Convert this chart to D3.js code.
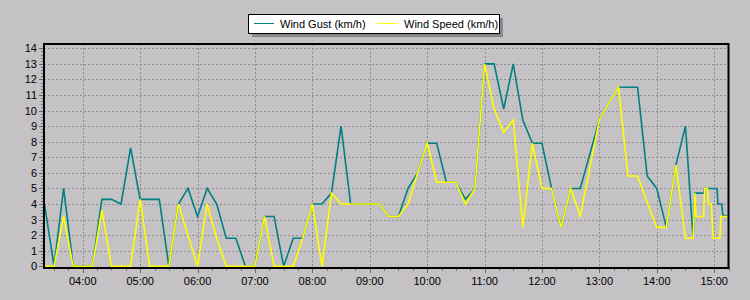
<!DOCTYPE html>
<html>
<head>
<meta charset="utf-8">
<script src="https://cdn.jsdelivr.net/npm/d3@7"></script>
<style>
  body { margin: 0; background: #c4c2c5; }
  svg { display: block; font-family: "Liberation Sans", Arial, sans-serif; }
</style>
</head>
<body>
<div id="chart"></div>
<script>
const times = [
  "03:20","03:30","03:40","03:50","04:00","04:10","04:20","04:30","04:40","04:50",
  "05:00","05:10","05:20","05:30","05:40","05:50","06:00","06:10","06:20","06:30",
  "06:40","06:50","07:00","07:10","07:20","07:30","07:40","07:50","08:00","08:10",
  "08:20","08:30","08:40","08:50","09:00","09:10","09:20","09:30","09:40","09:50",
  "10:00","10:10","10:20","10:30","10:40","10:50","11:00","11:10","11:20","11:30",
  "11:40","11:50","12:00","12:10","12:20","12:30","12:40","12:50","13:00","13:10",
  "13:20","13:30","13:40","13:50","14:00","14:10","14:20","14:30",
  "14:38","14:40","14:41","14:49","14:50","14:53","14:54","14:57","14:59","15:03",
  "15:04","15:06","15:07","15:08","15:09","15:15"
];

const gust = [
  4.0, 0, 5.0, 0, 0, 0, 4.3, 4.3, 4.0, 7.6,
  4.3, 4.3, 4.3, 0, 4.0, 5.0, 3.2, 5.0, 4.0, 1.8,
  1.8, 0, 0, 3.2, 3.2, 0, 1.8, 1.8, 4.0, 4.0,
  4.7, 9.0, 4.0, 4.0, 4.0, 4.0, 3.2, 3.2, 5.0, 6.0,
  7.9, 7.9, 5.4, 5.4, 4.3, 5.0, 13.0, 13.0, 10.1, 13.0,
  9.4, 7.9, 7.9, 5.0, 2.5, 5.0, 5.0, 7.2, 9.4, 10.5,
  11.5, 11.5, 11.5, 5.8, 5.0, 2.5, 6.5, 9.0,
  1.8, 4.7, 4.7, 4.7, 5.0, 5.0, 5.0, 5.0, 5.0, 5.0,
  4.0, 4.0, 4.0, 4.0, 3.3, 3.2
];

const speed = [
  0, 0, 3.2, 0, 0, 0, 3.6, 0, 0, 0,
  4.3, 0, 0, 0, 4.0, 2.0, 0, 4.0, 1.8, 0,
  0, 0, 0, 3.2, 0, 0, 0, 1.8, 4.0, 0,
  4.7, 4.0, 4.0, 4.0, 4.0, 4.0, 3.2, 3.2, 4.0, 6.0,
  7.9, 5.4, 5.4, 5.4, 4.0, 5.0, 13.0, 10.1, 8.6, 9.4,
  2.5, 7.9, 5.0, 5.0, 2.5, 5.0, 3.2, 6.3, 9.4, 10.5,
  11.5, 5.8, 5.8, 4.1, 2.5, 2.5, 6.5, 1.8,
  1.8, 4.7, 3.2, 3.2, 5.0, 5.0, 4.0, 4.0, 1.8, 1.8,
  1.8, 1.8, 3.2, 3.2, 3.2, 3.2
];

const yTicks = [0,1,2,3,4,5,6,7,8,9,10,11,12,13,14];
const hourTicks = ["04:00","05:00","06:00","07:00","08:00","09:00","10:00","11:00","12:00","13:00","14:00","15:00"];
const seriesNames = ["Wind Gust (km/h)", "Wind Speed (km/h)"];
const colors = ["#008080", "#ffff00"];

const width = 750;
const height = 300;
const plot = {left: 44, right: 728.5, top: 44, bottom: 267};

const parse = d3.timeParse("%H:%M");

const x = d3.scaleTime()
    .domain([parse("03:20"), parse("15:15")])
    .range([plot.left + 0.5, plot.right]);

const y = d3.scaleLinear()
    .domain([0, 14])
    .range([266.3, 48.3]);

const svg = d3.select('#chart')
    .append('svg')
    .attr('width', width)
    .attr('height', height);

svg.append('rect')
    .attr('width', width)
    .attr('height', height)
    .attr('fill', '#c4c2c5');

// gridlines
svg.append('g')
    .selectAll('line')
    .data(yTicks.slice(1))
    .enter()
    .append('line')
    .attr('x1', plot.left)
    .attr('x2', plot.right)
    .attr('y1', d => Math.round(y(d)) + 0.5)
    .attr('y2', d => Math.round(y(d)) + 0.5)
    .attr('stroke', '#8e8e8e')
    .attr('stroke-dasharray', '2,2');

svg.append('g')
    .selectAll('line')
    .data(hourTicks)
    .enter()
    .append('line')
    .attr('x1', d => Math.round(x(parse(d))) + 0.5)
    .attr('x2', d => Math.round(x(parse(d))) + 0.5)
    .attr('y1', plot.top)
    .attr('y2', plot.bottom)
    .attr('stroke', '#8e8e8e')
    .attr('stroke-dasharray', '2,2');

// y axis ticks and labels
const yMinor = d3.range(0, 14.01, 0.2);
svg.append('g')
    .selectAll('line')
    .data(yMinor)
    .enter()
    .append('line')
    .attr('x1', plot.left - 3)
    .attr('x2', plot.left)
    .attr('y1', d => Math.round(y(d)) + 0.5)
    .attr('y2', d => Math.round(y(d)) + 0.5)
    .attr('stroke', '#7a7a7a');

svg.append('g')
    .selectAll('line')
    .data(yTicks)
    .enter()
    .append('line')
    .attr('x1', plot.left - 5)
    .attr('x2', plot.left)
    .attr('y1', d => Math.round(y(d)) + 0.5)
    .attr('y2', d => Math.round(y(d)) + 0.5)
    .attr('stroke', '#6a6a6a');

svg.append('g')
    .selectAll('text')
    .data(yTicks)
    .enter()
    .append('text')
    .attr('x', 37)
    .attr('y', d => y(d) + 4)
    .attr('text-anchor', 'end')
    .attr('font-size', 11)
    .attr('fill', '#000')
    .text(d => d);

// x axis ticks and labels
const xMinor = x.ticks(d3.timeMinute.every(15));
svg.append('g')
    .selectAll('line')
    .data(xMinor)
    .enter()
    .append('line')
    .attr('x1', d => Math.round(x(d)) + 0.5)
    .attr('x2', d => Math.round(x(d)) + 0.5)
    .attr('y1', plot.bottom)
    .attr('y2', plot.bottom + 4)
    .attr('stroke', '#7a7a7a');

svg.append('g')
    .selectAll('line')
    .data(hourTicks)
    .enter()
    .append('line')
    .attr('x1', d => Math.round(x(parse(d))) + 0.5)
    .attr('x2', d => Math.round(x(parse(d))) + 0.5)
    .attr('y1', plot.bottom)
    .attr('y2', plot.bottom + 6)
    .attr('stroke', '#6a6a6a');

svg.append('g')
    .selectAll('text')
    .data(hourTicks)
    .enter()
    .append('text')
    .attr('x', d => x(parse(d)))
    .attr('y', 285)
    .attr('text-anchor', 'middle')
    .attr('font-size', 11)
    .attr('fill', '#000')
    .text(d => d);

// series lines
svg.append('clipPath')
    .attr('id', 'clip')
    .append('rect')
    .attr('x', plot.left)
    .attr('y', plot.top)
    .attr('width', plot.right - plot.left)
    .attr('height', plot.bottom - plot.top);

const rows = times.map((t, i) => ({t: parse(t), gust: gust[i], speed: speed[i]}));

const line = key => d3.line()
    .x(d => x(d.t))
    .y(d => y(d[key]));

const lines = svg.append('g').attr('clip-path', 'url(#clip)');

lines.append('path')
    .datum(rows)
    .attr('d', line('gust'))
    .attr('fill', 'none')
    .attr('stroke', colors[0])
    .attr('stroke-width', 1.6)
    .attr('stroke-linejoin', 'miter');

lines.append('path')
    .datum(rows)
    .attr('d', line('speed'))
    .attr('fill', 'none')
    .attr('stroke', colors[1])
    .attr('stroke-width', 1.6)
    .attr('stroke-linejoin', 'miter');

// frame
svg.append('rect')
    .attr('x', plot.left)
    .attr('y', plot.top)
    .attr('width', plot.right - plot.left)
    .attr('height', plot.bottom + 1 - plot.top)
    .attr('fill', 'none')
    .attr('stroke', '#000')
    .attr('stroke-width', 2);

// legend
const legend = svg.append('g');
legend.append('rect')
    .attr('x', 252)
    .attr('y', 18)
    .attr('width', 251)
    .attr('height', 19)
    .attr('fill', '#8a888b');
legend.append('rect')
    .attr('x', 248.5)
    .attr('y', 14.5)
    .attr('width', 251)
    .attr('height', 19)
    .attr('fill', '#fff')
    .attr('stroke', '#000');

const legendX = [254, 377];
const legendTextX = [280, 404];
legend.selectAll('.legend-line')
    .data(seriesNames)
    .enter()
    .append('line')
    .attr('x1', (d, i) => legendX[i])
    .attr('x2', (d, i) => legendX[i] + 20)
    .attr('y1', 23.5)
    .attr('y2', 23.5)
    .attr('stroke', (d, i) => colors[i])
    .attr('stroke-width', 1);

legend.selectAll('text')
    .data(seriesNames)
    .enter()
    .append('text')
    .attr('x', (d, i) => legendTextX[i])
    .attr('y', 28)
    .attr('font-size', 11)
    .attr('fill', '#000')
    .text(d => d);
</script>
</body>
</html>
